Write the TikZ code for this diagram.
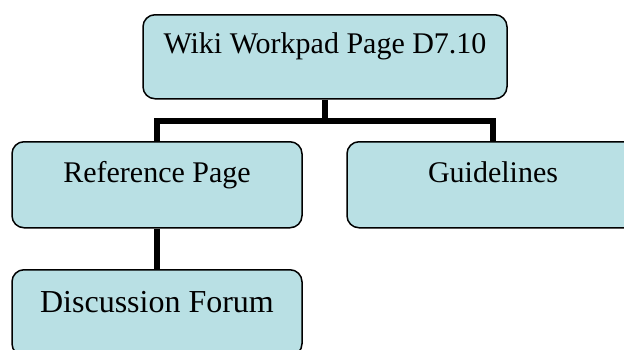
\documentclass[tikz,border=0pt]{standalone}
\usepackage{fontspec}
\setmainfont{Liberation Serif}
\usepackage{tikz}
\usetikzlibrary{positioning}
\definecolor{boxfill}{RGB}{185,224,228}
\tikzset{
  page/.style={draw=black, line width=1.5pt, fill=boxfill, rounded corners=12pt,
    minimum width=#1, inner xsep=0pt, inner ysep=0pt, anchor=north,
    text height=41pt, text depth=45pt, font=\fontsize{30}{36}\selectfont},
  link/.style={draw=black, line width=6pt}
}
\begin{document}
\begin{tikzpicture}[x=1pt,y=1pt]
        \clip (0,0) rectangle (624,-349);
        \node[page=364pt, text height=39pt] (wiki) at (325,-14) {Wiki Workpad Page D7.10};
        \node[page=290pt] (ref) at (157,-141) {Reference Page};
        \node[page=292pt] (guide) at (493,-141) {Guidelines};
        \node[page=290pt, text height=43pt, text depth=43pt, font=\fontsize{32}{38}\selectfont] (disc) at (157,-269) {Discussion Forum};
        \coordinate (split) at (325,-121);
        \draw[link] (wiki.south) -- (split) -| (ref.north);
        \draw[link] (split) -| (guide.north);
        \draw[link] (ref.south) -- (disc.north);
    \end{tikzpicture}
\end{document}
